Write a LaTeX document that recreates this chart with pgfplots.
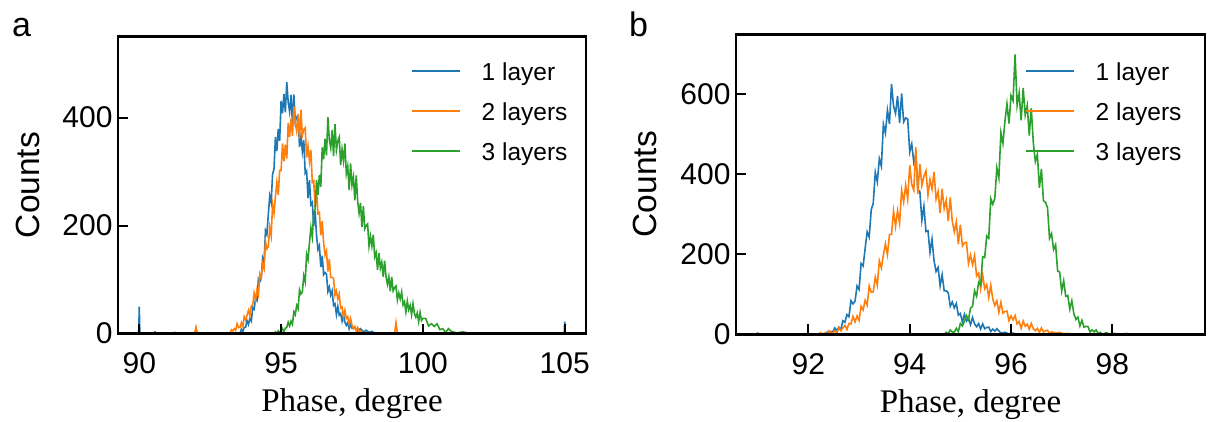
\documentclass[border=0pt]{standalone}
\usepackage{pgfplots}
\pgfplotsset{compat=1.18}
\usepackage{fontspec}
\setmainfont{Liberation Sans}
\newfontfamily\serifx{Liberation Serif}
\definecolor{tabblue}{RGB}{31,119,180}
\definecolor{taborange}{RGB}{255,127,14}
\definecolor{tabgreen}{RGB}{44,160,44}
\pgfplotsset{
  panel/.style={
    scale only axis, anchor=south west,
    axis on top,
    tick align=inside, xtick pos=left, ytick pos=left,
    major tick length=10pt,
    tick style={black, line width=2pt},
    axis line style={line width=2.5pt},
    ymin=0,
    tick label style={font=\fontsize{30}{32}\selectfont},
    yticklabel style={xshift=-2pt},
    xticklabel style={yshift=-16pt},
    /pgf/number format/assume math mode=true,
    every axis y label/.style={rotate=90, anchor=center, font=\fontsize{33.5}{36}\selectfont},
    every axis x label/.style={at={(axis description cs:0.5,0)}, anchor=center, yshift=-70pt, font=\serifx\fontsize{33}{36}\selectfont},
    legend style={draw=none, fill=none, anchor=north west, font=\fontsize{24.5}{27}\selectfont,
      inner sep=0pt, row sep=0pt,
      nodes={inner sep=0pt, minimum height=40pt, text height=0.72em, text depth=0.2em},
      /tikz/every odd column/.append style={column sep=20.5pt}},
    legend cell align=left,
    legend image code/.code={\draw[#1] (0pt,7pt) -- (48pt,7pt);},
  },
  dl/.style={line width=1.6pt},
}
\begin{document}
\begin{tikzpicture}
\useasboundingbox (0,0) rectangle (1208pt,421pt);
\node[anchor=base west, font=\fontsize{34}{36}\selectfont, inner sep=0pt] at (12pt,384pt) {a};
\node[anchor=base west, font=\fontsize{34}{36}\selectfont, inner sep=0pt] at (629pt,384pt) {b};
\begin{axis}[panel, at={(118pt,87.5pt)}, width=468pt, height=296.8pt,
  xmin=89.25, xmax=105.75, ymax=550,
  xtick={90,95,100,105}, ytick={0,200,400},
  xlabel={Phase, degree}, ylabel={Counts},
  ylabel style={at={(axis description cs:-0.1923,0.5)}},
  legend style={at={(axis description cs:0.627,0.928)}}]
\addplot[dl, tabblue] coordinates {(89.98,0)(90,50)(90.02,0)(90.5,0)(90.55,3)(90.6,0)(91.2,0)(91.25,2)(91.3,0)(93.55,0)(93.6,8)(93.65,4)(93.7,11)(93.75,12)(93.8,24)(93.85,17)(93.9,28)(93.95,23)(94,48)(94.05,45)(94.1,65)(94.15,61)(94.2,101)(94.25,96)(94.3,103)(94.35,140)(94.4,132)(94.45,191)(94.5,184)(94.55,221)(94.6,255)(94.65,243)(94.7,295)(94.75,305)(94.8,364)(94.85,338)(94.9,379)(94.95,357)(95,431)(95.05,408)(95.1,444)(95.15,410)(95.2,466)(95.25,429)(95.3,411)(95.35,442)(95.4,390)(95.45,443)(95.5,392)(95.55,402)(95.6,403)(95.65,346)(95.7,366)(95.75,337)(95.8,358)(95.85,297)(95.9,301)(95.95,251)(96,284)(96.05,239)(96.1,243)(96.15,199)(96.2,227)(96.25,181)(96.3,156)(96.35,163)(96.4,123)(96.45,144)(96.5,109)(96.55,113)(96.6,110)(96.65,78)(96.7,86)(96.75,71)(96.8,79)(96.85,52)(96.9,55)(96.95,35)(97,50)(97.05,34)(97.1,37)(97.15,23)(97.2,35)(97.25,21)(97.3,15)(97.35,20)(97.4,9)(97.45,18)(97.5,10)(97.6,11)(97.7,5)(97.8,9)(97.9,3)(98,6)(98.1,2)(98.2,4)(98.3,1)(98.4,0)(104.98,0)(105,22)(105.02,0)};
\addlegendentry{1 layer}
\addplot[dl, taborange] coordinates {(91.95,0)(92,12)(92.05,0)(93.15,0)(93.2,1)(93.25,7)(93.3,5)(93.35,9)(93.4,6)(93.45,18)(93.5,11)(93.55,11)(93.6,20)(93.65,13)(93.7,31)(93.75,25)(93.8,34)(93.85,43)(93.9,33)(93.95,51)(94,53)(94.05,75)(94.1,63)(94.15,81)(94.2,71)(94.25,110)(94.3,103)(94.35,129)(94.4,120)(94.45,170)(94.5,157)(94.55,161)(94.6,197)(94.65,181)(94.7,239)(94.75,223)(94.8,254)(94.85,280)(94.9,257)(94.95,302)(95,302)(95.05,352)(95.1,319)(95.15,350)(95.2,324)(95.25,390)(95.3,364)(95.35,397)(95.4,366)(95.45,421)(95.5,390)(95.55,375)(95.6,407)(95.65,361)(95.7,415)(95.75,367)(95.8,378)(95.85,381)(95.9,326)(95.95,347)(96,319)(96.05,340)(96.1,280)(96.15,283)(96.2,234)(96.25,265)(96.3,222)(96.35,224)(96.4,182)(96.45,208)(96.5,167)(96.55,145)(96.6,153)(96.65,115)(96.7,138)(96.75,104)(96.8,104)(96.85,102)(96.9,71)(96.95,79)(97,64)(97.05,73)(97.1,47)(97.15,49)(97.2,30)(97.25,43)(97.3,28)(97.35,31)(97.4,18)(97.45,28)(97.5,15)(97.55,9)(97.6,13)(97.65,4)(97.7,11)(97.75,4)(97.8,5)(97.9,1)(98,0)(99,0)(99.05,20)(99.1,0)};
\addlegendentry{2 layers}
\addplot[dl, tabgreen] coordinates {(94.65,0)(94.7,1)(94.75,0)(94.8,3)(94.85,0)(94.9,5)(94.95,2)(95,5)(95.05,9)(95.1,3)(95.15,10)(95.2,11)(95.25,21)(95.3,14)(95.35,23)(95.4,17)(95.45,40)(95.5,35)(95.55,52)(95.6,46)(95.65,81)(95.7,73)(95.75,77)(95.8,107)(95.85,96)(95.9,147)(95.95,137)(96,168)(96.05,196)(96.1,179)(96.15,225)(96.2,230)(96.25,284)(96.3,257)(96.35,294)(96.4,272)(96.45,345)(96.5,323)(96.55,361)(96.6,330)(96.65,401)(96.7,359)(96.75,344)(96.8,377)(96.85,329)(96.9,388)(96.95,340)(97,357)(97.05,364)(97.1,312)(97.15,341)(97.2,320)(97.25,352)(97.3,296)(97.35,310)(97.4,266)(97.45,315)(97.5,275)(97.55,290)(97.6,247)(97.65,293)(97.7,245)(97.75,223)(97.8,242)(97.85,197)(97.9,236)(97.95,194)(98,200)(98.05,203)(98.1,162)(98.15,180)(98.2,162)(98.25,183)(98.3,142)(98.35,150)(98.4,118)(98.45,149)(98.5,121)(98.55,132)(98.6,105)(98.65,135)(98.7,105)(98.75,91)(98.8,105)(98.85,78)(98.9,105)(98.95,79)(99,85)(99.05,88)(99.1,62)(99.15,75)(99.2,64)(99.25,77)(99.3,53)(99.35,59)(99.4,40)(99.45,60)(99.5,44)(99.55,52)(99.6,35)(99.65,55)(99.7,37)(99.75,30)(99.8,38)(99.85,22)(99.9,39)(99.95,24)(100,28)(100.1,28)(100.2,14)(100.3,18)(100.4,13)(100.5,18)(100.6,7)(100.7,9)(100.8,2)(100.9,9)(101,4)(101.2,1)(101.4,3)(101.6,1)(101.8,0)};
\addlegendentry{3 layers}
\end{axis}
\begin{axis}[panel, at={(736pt,86.7pt)}, width=469pt, height=300pt,
  xmin=90.57, xmax=99.83, ymax=750,
  xtick={92,94,96,98}, ytick={0,200,400,600},
  xlabel={Phase, degree}, ylabel={Counts},
  ylabel style={at={(axis description cs:-0.194,0.5)}},
  legend style={at={(axis description cs:0.617,0.922)}}]
\addplot[dl, tabblue] coordinates {(90.96,0)(91,3)(91.04,0)(92.32,0)(92.36,5)(92.4,1)(92.44,7)(92.48,6)(92.52,16)(92.56,9)(92.6,18)(92.64,11)(92.68,34)(92.72,30)(92.76,49)(92.8,44)(92.84,84)(92.88,76)(92.92,83)(92.96,121)(93,112)(93.04,177)(93.08,171)(93.12,215)(93.16,256)(93.2,243)(93.24,311)(93.28,328)(93.32,405)(93.36,381)(93.4,439)(93.44,420)(93.48,525)(93.52,503)(93.56,560)(93.6,526)(93.64,626)(93.68,571)(93.72,552)(93.76,596)(93.8,528)(93.84,602)(93.88,531)(93.92,541)(93.96,538)(94,456)(94.04,476)(94.08,430)(94.12,449)(94.16,361)(94.2,357)(94.24,285)(94.28,320)(94.32,257)(94.36,259)(94.4,205)(94.44,238)(94.48,184)(94.52,157)(94.56,167)(94.6,121)(94.64,149)(94.68,109)(94.72,109)(94.76,104)(94.8,70)(94.84,81)(94.88,66)(94.92,77)(94.96,48)(95,52)(95.04,31)(95.08,50)(95.12,33)(95.16,39)(95.2,24)(95.24,42)(95.28,26)(95.32,19)(95.36,27)(95.4,13)(95.44,26)(95.48,14)(95.52,17)(95.56,18)(95.6,7)(95.64,13)(95.68,8)(95.72,14)(95.8,3)(95.88,5)(95.96,1)(96.04,3)(96.12,0)};
\addlegendentry{1 layer}
\addplot[dl, taborange] coordinates {(92.08,0)(92.12,0)(92.16,1)(92.2,0)(92.24,4)(92.28,1)(92.32,3)(92.36,1)(92.4,9)(92.44,5)(92.48,3)(92.52,9)(92.56,3)(92.6,16)(92.64,9)(92.68,16)(92.72,22)(92.76,12)(92.8,27)(92.84,26)(92.88,45)(92.92,31)(92.96,46)(93,35)(93.04,70)(93.08,61)(93.12,85)(93.16,73)(93.2,121)(93.24,105)(93.28,106)(93.32,143)(93.36,123)(93.4,184)(93.44,166)(93.48,198)(93.52,226)(93.56,199)(93.6,250)(93.64,250)(93.68,308)(93.72,270)(93.76,309)(93.8,278)(93.84,360)(93.88,331)(93.92,373)(93.96,338)(94,423)(94.04,375)(94.08,360)(94.12,468)(94.16,351)(94.2,426)(94.24,372)(94.28,395)(94.32,409)(94.36,348)(94.4,387)(94.44,363)(94.48,406)(94.52,338)(94.56,357)(94.6,303)(94.64,364)(94.68,314)(94.72,335)(94.76,283)(94.8,342)(94.84,283)(94.88,256)(94.92,281)(94.96,225)(95,274)(95.04,221)(95.08,229)(95.12,230)(95.16,177)(95.2,198)(95.24,174)(95.28,197)(95.32,146)(95.36,153)(95.4,114)(95.44,149)(95.48,114)(95.52,124)(95.56,92)(95.6,123)(95.64,88)(95.68,72)(95.72,84)(95.76,55)(95.8,80)(95.84,53)(95.88,57)(95.92,58)(95.96,34)(96,46)(96.04,36)(96.08,47)(96.12,26)(96.16,32)(96.2,15)(96.24,33)(96.28,20)(96.32,25)(96.36,13)(96.4,27)(96.44,14)(96.48,9)(96.52,15)(96.56,5)(96.6,16)(96.64,6)(96.68,9)(96.72,10)(96.76,2)(96.8,6)(96.88,3)(96.96,5)(97.04,1)(97.12,2)(97.2,0)};
\addlegendentry{2 layers}
\addplot[dl, tabgreen] coordinates {(94.68,0)(94.72,5)(94.76,1)(94.8,11)(94.84,6)(94.88,5)(94.92,15)(94.96,7)(95,27)(95.04,21)(95.08,33)(95.12,47)(95.16,37)(95.2,65)(95.24,70)(95.28,109)(95.32,95)(95.36,130)(95.4,123)(95.44,194)(95.48,192)(95.52,246)(95.56,240)(95.6,339)(95.64,325)(95.68,340)(95.72,416)(95.76,391)(95.8,504)(95.84,477)(95.88,533)(95.92,576)(95.96,527)(96,597)(96.04,584)(96.08,700)(96.12,572)(96.16,603)(96.2,535)(96.24,616)(96.28,548)(96.32,572)(96.36,497)(96.4,565)(96.44,479)(96.48,432)(96.52,450)(96.56,366)(96.6,413)(96.64,334)(96.68,330)(96.72,317)(96.76,240)(96.8,252)(96.84,212)(96.88,224)(96.92,158)(96.96,156)(97,108)(97.04,134)(97.08,95)(97.12,97)(97.16,63)(97.2,84)(97.24,52)(97.28,37)(97.32,43)(97.36,21)(97.4,35)(97.44,18)(97.48,20)(97.52,19)(97.56,6)(97.6,11)(97.64,6)(97.68,11)(97.72,2)(97.76,5)(97.8,0)(97.88,4)(97.96,0)(98.04,2)(98.12,0)(98.28,2)(98.36,0)(98.56,1)(98.64,0)};
\addlegendentry{3 layers}
\end{axis}
\end{tikzpicture}
\end{document}
